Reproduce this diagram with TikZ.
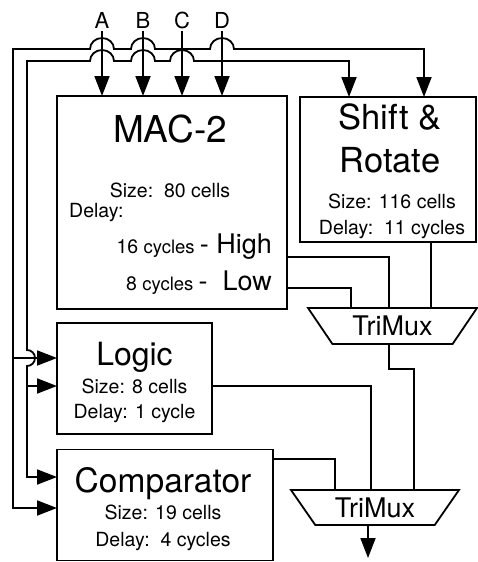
\documentclass[tikz,border=0pt]{standalone}
\usepackage{fontspec}
\setmainfont{TeX Gyre Heros}
\usepackage{tikz}
\usetikzlibrary{positioning,calc,shapes.geometric,arrows.meta}
\newcommand{\titlesz}{\fontsize{37}{40}\selectfont}
\newcommand{\namesz}{\fontsize{33.5}{36}\selectfont}
\newcommand{\muxsz}{\fontsize{27}{30}\selectfont}
\newcommand{\infosz}{\fontsize{19.5}{22}\selectfont}
\newcommand{\cycsz}{\fontsize{18.5}{20}\selectfont}
\newcommand{\pinsz}{\fontsize{22}{24}\selectfont}

\tikzset{
  block/.style={draw, line width=1.8pt, inner sep=0pt, outer sep=0pt},
  mux/.style={draw, line width=1.8pt, trapezium, shape border rotate=180,
    trapezium angle=51, trapezium stretches=true, inner sep=0pt, outer sep=0pt, font=\muxsz},
  txt/.style={inner sep=0pt, anchor=base},
  pin/.style={inner sep=0pt, outer sep=3pt, anchor=base, font=\pinsz},
  wire/.style={line width=1.8pt},
  feed/.style={wire, -{Triangle[length=20pt,width=15pt]}},
  bifeed/.style={wire, {Triangle[length=20pt,width=15pt]}-{Triangle[length=20pt,width=15pt]}}
}

\begin{document}
\begin{tikzpicture}[x=1pt, y=-1pt]
  \useasboundingbox (0,0) rectangle (478,562);

  % Blocks
  \node[block, minimum width=230pt, minimum height=213pt] (mac) at (172,202.5) {};
  \node[block, minimum width=176pt, minimum height=145pt] (shift) at (388,169.5) {};
  \node[block, minimum width=155pt, minimum height=111pt] (logic) at (134.5,378.5) {};
  \node[block, minimum width=216pt, minimum height=111pt] (comp) at (165,505) {};
  \node[mux, minimum width=169pt, minimum height=36pt] (mux1) at (392.5,326) {TriMux};
  \node[mux, minimum width=168pt, minimum height=35pt] (mux2) at (375,507.5) {TriMux};

  % Block texts
  \node[txt, font=\titlesz] (macName) at ($(mac.north)+(-2,46)$) {MAC-2};
  \node[txt, font=\infosz] (macSize) at ($(mac.north)+(-2,101)$) {Size:\ \ 80 cells};
  \node[txt, anchor=base west, font=\infosz] (macDelay) at ($(mac.north west)+(12,121)$) {Delay:};
  \node[txt, anchor=base east] (macHigh) at ($(mac.north east)+(-15,157)$)
    {\infosz 16 \cycsz cycles \muxsz - High};
  \node[txt, anchor=base east] (macLow) at ($(mac.north east)+(-15,194)$)
    {\infosz 8 \cycsz cycles \muxsz -\ \ Low};

  \node[txt, font=\fontsize{34.5}{36}\selectfont] (shName) at ($(shift.north)+(2,32)$) {Shift \&};
  \node[txt, font=\fontsize{34.5}{36}\selectfont] (shName2) at ($(shift.north)+(2,75)$) {Rotate};
  \node[txt, font=\infosz] (shSize) at ($(shift.north)+(4,111)$) {Size: 116 cells};
  \node[txt, font=\infosz] (shDelay) at ($(shift.north)+(4,137)$) {Delay:\ \ 11 cycles};

  \node[txt, font=\fontsize{32}{34}\selectfont] (lgName) at ($(logic.north)+(0,42)$) {Logic};
  \node[txt, font=\infosz] (lgSize) at ($(logic.north)+(0,70)$) {Size: 8 cells};
  \node[txt, font=\infosz] (lgDelay) at ($(logic.north)+(0,95)$) {Delay: 1 cycle};

  \node[txt, font=\namesz] (cpName) at ($(comp.north)+(-2,43)$) {Comparator};
  \node[txt, font=\infosz] (cpSize) at ($(comp.north)+(-2,70)$) {Size: 19 cells};
  \node[txt, font=\infosz] (cpDelay) at ($(comp.north)+(-2,97)$) {Delay:\ \ 4 cycles};

  % Inputs
  \node[pin] (A) at (102,28) {A};
  \node[pin] (B) at (143,28) {B};
  \node[pin] (C) at (182,28) {C};
  \node[pin] (D) at (222,28) {D};

  % Bus corners and entry points
  \coordinate (outerTL) at (13,49);
  \coordinate (innerTL) at (27,61);
  \coordinate (shIn1) at ($(shift.north)+(-39,0)$);
  \coordinate (shIn2) at ($(shift.north)+(36,0)$);
  \coordinate (logicA) at ($(logic.west)+(0,-20.5)$);
  \coordinate (logicB) at ($(logic.west)+(0,7.5)$);
  \coordinate (compA) at ($(comp.west)+(0,-28)$);
  \coordinate (compB) at ($(comp.west)+(0,3)$);

  % Operands into MAC-2
  \foreach \p in {A,B,C,D}
    \draw[feed] (\p) -- (\p |- mac.north);

  % Outer bus
  \draw[bifeed] (compB) -| (outerTL)
    -- ($(A |- outerTL)+(-12,0)$) arc[start angle=180, end angle=360, x radius=12, y radius=11]
    -- ($(B |- outerTL)+(-12,0)$) arc[start angle=180, end angle=360, x radius=12, y radius=11]
    -- ($(D |- outerTL)+(-12,0)$) arc[start angle=180, end angle=360, x radius=12, y radius=11]
    -| (shIn2);

  % Inner bus
  \draw[bifeed] (compA) -- (innerTL |- compA)
    -- ($(innerTL |- logicA)+(0,8)$) arc[start angle=90, end angle=-90, radius=8]
    -- (innerTL)
    -- ($(A |- innerTL)+(-12,0)$) arc[start angle=180, end angle=360, x radius=12, y radius=11]
    -- ($(B |- innerTL)+(-12,0)$) arc[start angle=180, end angle=360, x radius=12, y radius=11]
    -- ($(C |- innerTL)+(-12,0)$) arc[start angle=180, end angle=360, x radius=12, y radius=11]
    -| (shIn1);

  % Branches into Logic
  \draw[feed] (outerTL |- logicA) -- (logicA);
  \draw[feed] (innerTL |- logicB) -- (logicB);

  % Outputs to first TriMux
  \draw[wire] ($(mac.east)+(0,54.5)$) -| ($(mux1.north)+(-3.5,0)$);
  \draw[wire] ($(mac.east)+(0,85.5)$) -| ($(mux1.north)+(-41.5,0)$);
  \draw[wire] (shift.south -| {$(mux1.north)+(38.5,0)$}) -- ($(mux1.north)+(38.5,0)$);

  % Outputs to second TriMux
  \draw[wire] ($(mux1.south)+(-3.5,0)$) -- ++(0,25) -| ($(mux2.north)+(39,0)$);
  \draw[wire] ($(logic.east)+(0,7.5)$) -| ($(mux2.north)+(-4,0)$);
  \draw[wire] ($(comp.east)+(0,-46)$) -| ($(mux2.north)+(-40,0)$);

  % Result
  \coordinate (result) at ($(mux2.south)+(-7,33)$);
  \draw[feed] (mux2.south -| result) -- (result);
\end{tikzpicture}
\end{document}
